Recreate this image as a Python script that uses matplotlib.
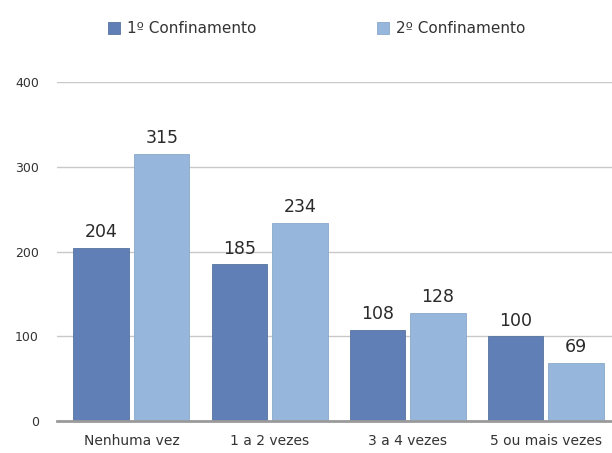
import matplotlib
matplotlib.use("Agg")
import matplotlib.pyplot as plt
import numpy as np

plt.rcParams['font.family'] = ['DejaVu Sans']

categories = ["Nenhuma vez", "1 a 2 vezes", "3 a 4 vezes", "5 ou mais vezes"]
series_names = ["1º Confinamento", "2º Confinamento"]
first = [204, 185, 108, 100]
second = [315, 234, 128, 69]
y_ticks = [0, 100, 200, 300, 400]

dark = "#5f7fb6"
light = "#96b6dc"

fig = plt.figure(figsize=(6.12, 4.53), dpi=100)
ax = fig.add_axes([0.093, 0.0706, 0.907, 0.748])

x = np.arange(len(categories))
w = 0.40
off = 0.22
b1 = ax.bar(x - off, first, w, color=dark, edgecolor="#56739f", linewidth=0.6,
            label=series_names[0], zorder=3)
b2 = ax.bar(x + off, second, w, color=light, edgecolor="#8aa8cc", linewidth=0.6,
            label=series_names[1], zorder=3)

for bars, vals in ((b1, first), (b2, second)):
    for r, v in zip(bars, vals):
        ax.text(r.get_x() + r.get_width() / 2, v + 8, str(v), ha="center",
                va="bottom", fontsize=12.5, color="#2a2a2a", zorder=4)

ax.set_xlim(-0.54, 3.48)
ax.set_ylim(0, 400)
ax.set_yticks(y_ticks)
ax.set_yticklabels([str(t) for t in y_ticks], fontsize=9, color="#333333")
ax.set_xticks(x)
ax.set_xticklabels(categories, fontsize=10, color="#333333")
ax.tick_params(axis="y", length=0, pad=13)
ax.tick_params(axis="x", length=0, pad=9)
ax.yaxis.grid(True, color="#c8c8c8", linewidth=1.0, zorder=0)
for s in ("top", "right", "left"):
    ax.spines[s].set_visible(False)
ax.spines["bottom"].set_color("#9a9a9a")
ax.spines["bottom"].set_linewidth(2.0)
ax.spines["bottom"].set_zorder(5)

leg = fig.legend(handles=[b1, b2], labels=series_names, loc="center",
                 bbox_to_anchor=(0.517, 0.937), ncol=2, frameon=False,
                 fontsize=11, handlelength=0.8, handleheight=0.8,
                 columnspacing=7.9, handletextpad=0.45)
for t in leg.get_texts():
    t.set_color("#333333")

fig.savefig("out.png", dpi=100, facecolor="white")
